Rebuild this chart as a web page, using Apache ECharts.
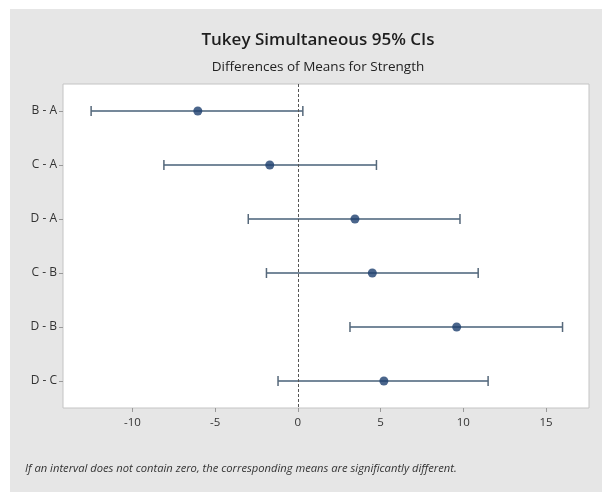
<!DOCTYPE html>
<html>
<head>
<meta charset="utf-8">
<script src="https://cdn.jsdelivr.net/npm/echarts@6/dist/echarts.min.js"></script>
<style>
html,body{margin:0;padding:0;background:#ffffff;}
#chart{width:602px;height:492px;}
</style>
</head>
<body>
<div id="chart"></div>
<script>
const categories = ['B - A', 'C - A', 'D - A', 'C - B', 'D - B', 'D - C'];
const lowerValues = [-12.5, -8.1, -3.0, -1.9, 3.15, -1.2];
const meanValues = [-6.05, -1.7, 3.45, 4.5, 9.6, 5.2];
const upperValues = [0.3, 4.75, 9.8, 10.9, 16.0, 11.5];
const xTicks = [-10, -5, 0, 5, 10, 15];

const chart = echarts.init(document.getElementById('chart'), null, {renderer: 'canvas'});

const intervalData = categories.map((c, i) => [i, lowerValues[i], upperValues[i]]);
const meanData = categories.map((c, i) => [meanValues[i], i]);

const option = {
  backgroundColor: '#ffffff',
  animation: false,
  graphic: [
    {type: 'rect', z: -10, silent: true, shape: {x: 10, y: 9, width: 592, height: 483}, style: {fill: '#e6e6e6'}},
    {type: 'text', left: 25, top: 463, style: {text: 'If an interval does not contain zero, the corresponding means are significantly different.', font: 'italic 11.2px "Open Sans", sans-serif', fill: '#333333'}}
  ],
  title: [
    {text: 'Tukey Simultaneous 95% CIs', left: 313, top: 27, textAlign: 'center',
     textStyle: {fontFamily: '"Open Sans", sans-serif', fontSize: 17, fontWeight: 600, color: '#1e1e1e'}},
    {text: 'Differences of Means for Strength', left: 313, top: 55, textAlign: 'center',
     textStyle: {fontFamily: '"Open Sans", sans-serif', fontSize: 13.5, fontWeight: 'normal', color: '#222222'}}
  ],
  grid: {left: 63, right: 13, top: 84, bottom: 84, show: true, backgroundColor: '#ffffff', borderColor: '#c4c4c4', borderWidth: 1},
  xAxis: {
    type: 'value', min: -14.2, max: 17.6,
    axisLine: {show: false, onZero: false},
    axisTick: {show: true, length: 4, lineStyle: {color: '#999999'}, customValues: xTicks},
    axisLabel: {customValues: xTicks, color: '#333333', fontSize: 11.5, fontFamily: '"Open Sans", sans-serif', margin: 9},
    splitLine: {show: false}
  },
  yAxis: {
    type: 'category', data: categories, inverse: true,
    axisLine: {show: false, onZero: false},
    axisTick: {show: true, length: 4, alignWithLabel: true, lineStyle: {color: '#999999'}},
    axisLabel: {color: '#333333', fontSize: 12, fontFamily: '"Open Sans", sans-serif', margin: 6},
    splitLine: {show: false}
  },
  series: [
    {
      type: 'custom',
      data: intervalData,
      encode: {x: [1, 2], y: 0},
      renderItem: function (params, api) {
        const y = api.value(0);
        const p1 = api.coord([api.value(1), y]);
        const p2 = api.coord([api.value(2), y]);
        const h = 5;
        const st = {stroke: '#56687a', lineWidth: 1.5};
        return {
          type: 'group',
          children: [
            {type: 'line', shape: {x1: p1[0], y1: p1[1], x2: p2[0], y2: p2[1]}, style: {stroke: '#75889a', lineWidth: 2.2}},
            {type: 'line', shape: {x1: p1[0], y1: p1[1] - h, x2: p1[0], y2: p1[1] + h}, style: st},
            {type: 'line', shape: {x1: p2[0], y1: p2[1] - h, x2: p2[0], y2: p2[1] + h}, style: st}
          ]
        };
      },
      z: 2
    },
    {
      type: 'scatter',
      data: meanData,
      symbol: 'circle', symbolSize: 9,
      itemStyle: {color: '#1d3f6e'},
      markLine: {
        silent: true, symbol: 'none', label: {show: false},
        lineStyle: {color: '#555555', type: [3, 2], width: 1},
        data: [{xAxis: 0}]
      },
      z: 3
    }
  ]
};
chart.setOption(option);
</script>
</body>
</html>
